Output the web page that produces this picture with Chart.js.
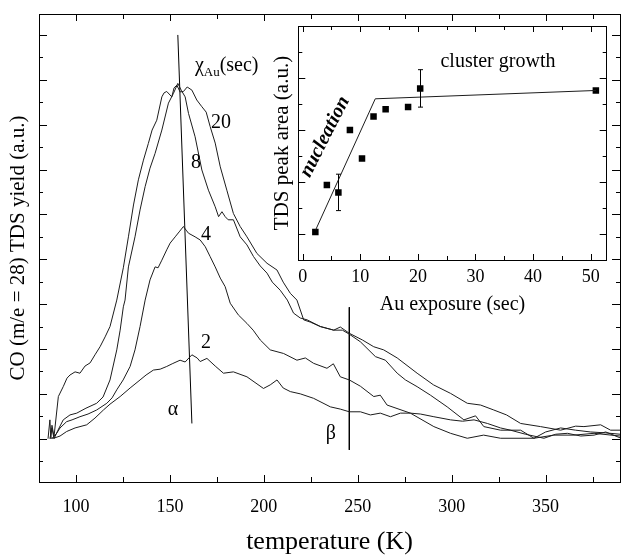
<!DOCTYPE html>
<html>
<head>
<meta charset="utf-8">
<script src="https://cdn.jsdelivr.net/npm/chart.js@4.4.1/dist/chart.umd.min.js"></script>
<style>
  html, body { margin: 0; padding: 0; background: #fff; }
  #wrap { position: relative; width: 621px; height: 555px; }
  #main { position: absolute; left: 0; top: 0; }
  #inset { position: absolute; left: 262px; top: 10px; }
</style>
</head>
<body>
<div id="wrap">
  <canvas id="main" width="621" height="555"></canvas>
  <canvas id="inset" width="359" height="310"></canvas>
</div>
<script>
// ---- main panel: CO TDS traces, [temperature K, yield a.u.] ----
const curve20 = [[85.1,0],[86.1,0.42],[86.6,0.02],[87.2,0.3],[88.3,0.05],[90.6,0.94],[93.2,1.16],[95.2,1.35],
  [96.8,1.42],[99.5,1.49],[102.1,1.46],[104.8,1.62],[107.5,1.69],[110.1,1.87],[112.8,2.05],[115.5,2.27],
  [118.1,2.5],[121.7,3.09],[125.2,3.81],[127.9,4.5],[130.6,5.21],[133.2,5.77],[135.9,6.21],[138.5,6.58],
  [140.5,6.88],[143.0,7.1],[145.7,7.62],[146.9,7.71],[148.3,7.74],[151.0,7.62],[152.2,7.82],[153.7,7.88],
  [155.4,7.73],[157.2,7.74],[159.2,7.84],[161.7,7.77],[164.3,7.55],[167.0,7.4],[169.3,7.28],[171.4,6.96],
  [174.1,6.59],[176.8,6.06],[180.3,5.54],[183.8,5.02],[187.4,4.73],[191.0,4.5],[196.3,4.13],[201.7,3.91],
  [207.0,3.76],[210.3,3.49],[214.1,3.24],[217.6,3.09],[221.2,2.65],[224.7,2.6],[230.1,2.5],[237.2,2.42],
  [240.7,2.49],[245.5,2.35],[252.5,2.2],[258.5,2.05],[263.8,1.98],[271.0,1.8],[281.6,1.46],[290.3,1.2],
  [299.4,1.01],[308.3,0.79],[315.4,0.75],[322.4,0.64],[329.2,0.53],[336.7,0.34],[347.3,0.27],[358.0,0.19],
  [366.0,0.28],[370.4,0.27],[379.3,0.31],[384.6,0.19],[389.6,0.19]];
const curve8 = [[86.1,0],[87.2,0.24],[88.3,0],[90.4,0.19],[93.2,0.42],[96.8,0.53],[100.4,0.57],[105.3,0.68],
  [111.0,0.79],[114.4,0.93],[118.1,1.31],[121.7,1.98],[123.5,2.42],[125.2,2.94],[126.1,3.09],[127.9,3.83],
  [131.4,4.5],[134.1,5.1],[136.8,5.62],[139.4,6.03],[142.1,6.36],[145.7,6.88],[149.2,7.48],[151.9,7.7],
  [154.2,7.92],[156.0,7.77],[158.1,7.62],[159.9,7.25],[163.4,6.73],[167.0,5.99],[170.5,5.54],[174.1,5.17],
  [175.9,4.95],[177.7,5.06],[179.4,4.95],[181.0,4.88],[183.8,4.88],[187.4,4.5],[191.0,4.32],[194.5,4.06],
  [198.1,3.85],[201.7,3.69],[204.5,3.49],[208.7,3.31],[212.5,3.09],[215.8,2.8],[219.4,2.69],[223.0,2.65],
  [230.1,2.5],[237.2,2.42],[241.8,2.42],[245.5,2.33],[251.4,2.16],[259.4,1.83],[264.7,1.75],[271.0,1.46],
  [275.4,1.31],[281.6,1.16],[288.7,0.97],[297.6,0.71],[306.5,0.42],[312.7,0.51],[317.1,0.27],[326.0,0.19],
  [336.7,0.19],[343.8,0.01],[350.0,0.15],[358.0,0.24],[366.0,0.19],[374.0,0.15],[382.0,0.13],[389.6,0.1]];
const curve4 = [[87.2,0],[89.7,0.12],[91.5,0.24],[95.0,0.38],[97.9,0.42],[102.1,0.49],[106.4,0.55],[111.0,0.64],
  [116.4,0.79],[119.2,0.91],[121.7,1.09],[125.1,1.31],[128.8,1.61],[131.4,1.98],[134.1,2.5],[136.8,3.09],
  [139.4,3.54],[142.1,3.83],[143.7,3.81],[145.7,3.98],[148.3,4.21],[150.1,4.36],[152.8,4.5],[154.9,4.61],
  [157.2,4.73],[158.6,4.65],[159.9,4.58],[163.4,4.5],[166.1,4.43],[168.8,4.28],[171.4,4.06],[174.1,3.83],
  [176.8,3.58],[179.4,3.39],[182.1,3.02],[186.4,2.76],[191.0,2.57],[194.3,2.42],[198.1,2.2],[203.4,1.98],
  [210.5,1.9],[217.6,1.75],[222.1,1.8],[226.5,1.68],[233.6,1.57],[237.0,1.67],[240.7,1.38],[245.5,1.31],
  [251.4,1.17],[258.5,0.94],[262.0,0.97],[265.6,0.75],[278.0,0.57],[290.5,0.27],[299.4,0.12],[308.3,0.01],
  [317.0,0.08],[326.0,0.01],[343.8,0.01],[354.3,0.08],[365.1,0.08],[375.8,0.12],[389.6,0.06]];
const curve2 = [[86.1,0.01],[88.8,0.02],[91.5,0.06],[95.0,0.16],[99.5,0.24],[105.7,0.31],[110.1,0.46],
  [114.6,0.64],[118.1,0.77],[123.5,0.94],[128.8,1.13],[134.1,1.31],[137.3,1.42],[141.2,1.53],[144.8,1.55],
  [148.3,1.61],[151.2,1.67],[155.4,1.75],[158.1,1.71],[161.7,1.87],[164.5,1.8],[166.1,1.72],[169.7,1.79],
  [174.1,1.62],[178.5,1.46],[183.8,1.49],[191.0,1.38],[199.8,1.12],[203.4,1.2],[207.0,1.31],[210.3,1.13],
  [214.1,1.05],[219.4,1.0],[226.5,0.9],[235.4,0.71],[240.7,0.66],[245.5,0.6],[251.4,0.6],[256.7,0.53],
  [262.0,0.57],[267.4,0.49],[272.7,0.57],[278.0,0.57],[283.4,0.55],[290.5,0.49],[299.4,0.42],[305.8,0.39],
  [311.9,0.42],[319.0,0.34],[326.0,0.24],[331.3,0.19],[339.3,0.1],[349.1,0.01],[355.4,0.1],[361.6,0.12],
  [368.7,0.06],[375.8,0.08],[382.0,0.15],[389.6,0.02]];
const alphaLine = [[154.2,9.0],[161.7,0.34]];
const betaLine = [[245.5,2.93],[245.5,-0.25]];
const tempTicks = [100, 150, 200, 250, 300, 350];

// ---- inset: TDS peak area vs Au exposure ----
const exposure = [2.2, 4.2, 6.2, 8.2, 10.3, 12.3, 14.4, 18.3, 20.4, 50.9];
const peakArea = [0.04, 0.94, 0.8, 2.0, 1.45, 2.26, 2.4, 2.44, 2.8, 2.76];
const peakErr  = [0, 0, 0.35, 0, 0, 0, 0, 0, 0.36, 0];
const fitX = [2.26, 12.6, 50.9];
const fitY = [0.08, 2.6, 2.76];

const SERIF = '"Liberation Serif", "Times New Roman", serif';
const INK = '#1c1c1c';

const pairs = arr => arr.map(p => ({ x: p[0], y: p[1] }));
const zip = (xs, ys) => xs.map((v, i) => ({ x: v, y: ys[i] }));

// box round the plot plus inward ticks on all four sides
function tickList(scale, o) {
  const out = [];
  const k0 = Math.ceil(scale.min / o.minor - 1e-6), k1 = Math.floor(scale.max / o.minor + 1e-6);
  const every = Math.round(o.major / o.minor);
  for (let k = k0; k <= k1; k++) out.push([k * o.minor, k % every === 0]);
  return out;
}
const frameTicks = {
  id: 'frameTicks',
  afterDraw(chart, args, opts) {
    const { ctx, chartArea: a, scales } = chart;
    ctx.save();
    ctx.strokeStyle = '#000';
    ctx.lineWidth = 1;
    ctx.strokeRect(Math.round(a.left) + 0.5, Math.round(a.top) + 0.5,
      Math.round(a.right - a.left), Math.round(a.bottom - a.top));
    ctx.beginPath();
    tickList(scales.x, opts.x).forEach(([v, big]) => {
      const p = Math.round(scales.x.getPixelForValue(v)) + 0.5;
      const len = big ? opts.x.big : opts.x.small;
      ctx.moveTo(p, a.bottom); ctx.lineTo(p, a.bottom - len);
      ctx.moveTo(p, a.top); ctx.lineTo(p, a.top + len);
    });
    tickList(scales.y, opts.y).forEach(([v, big]) => {
      const p = Math.round(scales.y.getPixelForValue(v)) + 0.5;
      const len = big ? opts.y.big : opts.y.small;
      ctx.moveTo(a.left, p); ctx.lineTo(a.left + len, p);
      ctx.moveTo(a.right, p); ctx.lineTo(a.right - len, p);
    });
    ctx.stroke();
    ctx.restore();
  }
};

// free text placed in data coordinates
const textLabels = {
  id: 'textLabels',
  afterDatasetsDraw(chart, args, opts) {
    const { ctx, scales: { x, y } } = chart;
    ctx.save();
    ctx.fillStyle = '#000';
    (opts.items || []).forEach(it => {
      ctx.save();
      ctx.translate(x.getPixelForValue(it.x), y.getPixelForValue(it.y));
      if (it.rot) ctx.rotate(it.rot * Math.PI / 180);
      if (it.parts) {
        ctx.textAlign = 'left';
        ctx.textBaseline = 'alphabetic';
        let cx = 0;
        it.parts.forEach(pt => {
          ctx.font = pt.size + 'px ' + SERIF;
          ctx.fillText(pt.t, cx, pt.dy || 0);
          cx += ctx.measureText(pt.t).width;
        });
      } else {
        ctx.font = it.font || ('20px ' + SERIF);
        ctx.textAlign = 'center';
        ctx.textBaseline = 'middle';
        ctx.fillText(it.text, 0, 0);
      }
      ctx.restore();
    });
    ctx.restore();
  }
};

// vertical error bars for the inset points
const errorBars = {
  id: 'errorBars',
  afterDatasetsDraw(chart, args, opts) {
    const { ctx, scales: { x, y } } = chart;
    ctx.save();
    ctx.strokeStyle = '#000';
    ctx.lineWidth = 1;
    ctx.beginPath();
    exposure.forEach((ex, i) => {
      if (!peakErr[i]) return;
      const px = Math.round(x.getPixelForValue(ex)) + 0.5;
      const top = y.getPixelForValue(peakArea[i] + peakErr[i]);
      const bot = y.getPixelForValue(peakArea[i] - peakErr[i]);
      ctx.moveTo(px, top); ctx.lineTo(px, bot);
      ctx.moveTo(px - 2.5, top); ctx.lineTo(px + 2.5, top);
      ctx.moveTo(px - 2.5, bot); ctx.lineTo(px + 2.5, bot);
    });
    ctx.stroke();
    ctx.restore();
  }
};

function trace(points) {
  return { data: pairs(points), borderColor: INK, borderWidth: 1, pointRadius: 0, tension: 0, fill: false };
}

new Chart(document.getElementById('main'), {
  type: 'line',
  data: {
    datasets: [trace(curve20), trace(curve8), trace(curve4), trace(curve2),
      Object.assign(trace(alphaLine), { borderColor: '#000' }),
      Object.assign(trace(betaLine), { borderColor: '#000' })]
  },
  options: {
    responsive: false,
    animation: false,
    devicePixelRatio: 1,
    layout: { padding: { top: 14, right: 1, left: 0, bottom: 0 } },
    plugins: {
      legend: { display: false },
      tooltip: { enabled: false },
      frameTicks: { x: { major: 50, minor: 25, big: 7, small: 5 }, y: { major: 1, minor: 0.5, big: 8, small: 4 } },
      textLabels: {
        items: [
          { x: 163.3, y: 8.2, parts: [{ t: 'χ', size: 20 }, { t: 'Au', size: 13, dy: 5 }, { t: '(sec)', size: 20 }] },
          { text: '20', x: 177.2, y: 7.04 },
          { text: '8', x: 163.9, y: 6.15 },
          { text: '4', x: 169.2, y: 4.54 },
          { text: '2', x: 169.2, y: 2.13 },
          { text: 'α', x: 151.6, y: 0.64 },
          { text: 'β', x: 235.7, y: 0.1 }
        ]
      }
    },
    scales: {
      x: {
        type: 'linear', min: 80.3, max: 389.6,
        grid: { display: false, drawTicks: false }, border: { display: false },
        afterBuildTicks: s => { s.ticks = tempTicks.map(v => ({ value: v })); },
        ticks: { padding: 14, color: '#000', maxRotation: 0, autoSkip: false, font: { family: SERIF, size: 18 } },
        title: { display: true, text: 'temperature (K)', color: '#000', padding: 0, font: { family: SERIF, size: 26, lineHeight: 1 } },
        afterFit: s => { s.height = 73; }
      },
      y: {
        type: 'linear', min: -0.965, max: 9.467,
        grid: { display: false, drawTicks: false }, border: { display: false },
        ticks: { display: false },
        title: { display: true, text: 'CO (m/e = 28) TDS yield (a.u.)', color: '#000', padding: { top: 7.5 }, font: { family: SERIF, size: 21, lineHeight: 1 } },
        afterFit: s => { s.width = 39; }
      }
    }
  },
  plugins: [frameTicks, textLabels]
});

new Chart(document.getElementById('inset'), {
  type: 'scatter',
  data: {
    datasets: [
      { data: zip(fitX, fitY), showLine: true, borderColor: INK, borderWidth: 1, pointRadius: 0 },
      { data: zip(exposure, peakArea), pointStyle: 'rect', pointRadius: 4.6, backgroundColor: '#000', borderColor: '#000', borderWidth: 0 }
    ]
  },
  options: {
    responsive: false,
    animation: false,
    devicePixelRatio: 1,
    layout: { padding: { top: 16, right: 14.3, left: 0, bottom: 0 } },
    plugins: {
      legend: { display: false },
      tooltip: { enabled: false },
      frameTicks: { x: { major: 10, minor: 5, big: 6, small: 4 }, y: { major: 1, minor: 0.5, big: 7, small: 4 } },
      textLabels: {
        items: [
          { text: 'cluster growth', x: 33.9, y: 3.31 },
          { text: 'nucleation', x: 3.87, y: 1.87, rot: -63, font: 'italic bold 20px ' + SERIF }
        ]
      }
    },
    scales: {
      x: {
        type: 'linear', min: -0.76, max: 52.78,
        grid: { display: false, drawTicks: false }, border: { display: false },
        afterBuildTicks: s => { s.ticks = [0, 10, 20, 30, 40, 50].map(v => ({ value: v })); },
        ticks: { padding: 6, color: '#000', maxRotation: 0, autoSkip: false, font: { family: SERIF, size: 18 } },
        title: { display: true, text: 'Au exposure (sec)', color: '#000', padding: { bottom: 5 }, font: { family: SERIF, size: 20, lineHeight: 1 } },
        afterFit: s => { s.height = 60; }
      },
      y: {
        type: 'linear', min: -0.5, max: 4.0,
        grid: { display: false, drawTicks: false }, border: { display: false },
        ticks: { display: false },
        title: { display: true, text: 'TDS peak area (a.u.)', color: '#000', padding: { top: 9.5 }, font: { family: SERIF, size: 21, lineHeight: 1 } },
        afterFit: s => { s.width = 36.3; }
      }
    }
  },
  plugins: [frameTicks, textLabels, errorBars]
});
</script>
</body>
</html>
